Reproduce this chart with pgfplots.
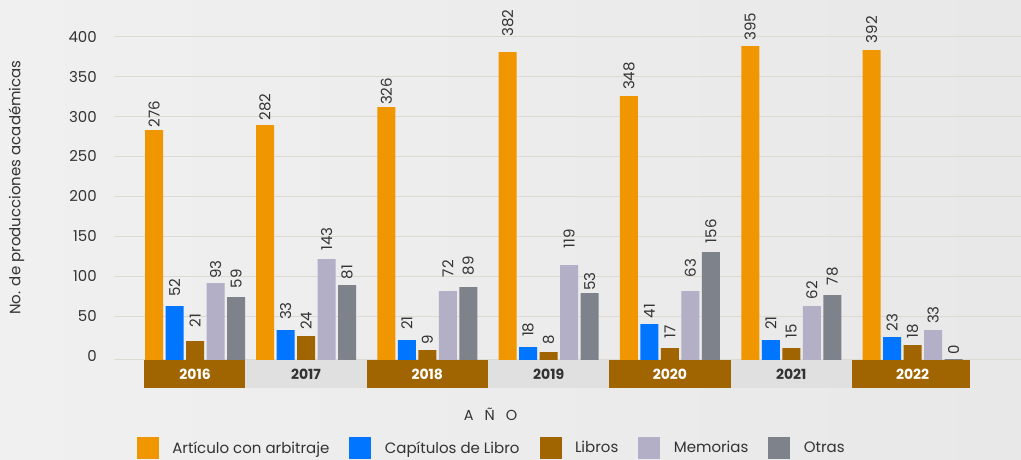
\documentclass[border=0pt]{standalone}
\usepackage{fontspec}
\setmainfont{Poppins}
\usepackage{pgfplots}
\usepackage{pgfplotstable}
\pgfplotsset{compat=1.18}

\definecolor{cArt}{HTML}{F09600}
\definecolor{cCap}{HTML}{0075FF}
\definecolor{cLib}{HTML}{A06400}
\definecolor{cMem}{HTML}{B2AFC6}
\definecolor{cOtr}{HTML}{7E838B}
\definecolor{bandG}{HTML}{E0E0E0}
\definecolor{gridc}{HTML}{DCDAD3}
\definecolor{bgL}{HTML}{F0F0F0}
\definecolor{bgR}{HTML}{E8E8E8}
\definecolor{txt}{HTML}{333333}

% x = group position, v = bar height as drawn, lab = printed label, ly = label start (axis units, shifted by +5)
\pgfplotstableread{
x v lab ly
0.085 283 276 291.4
1 289.3 282 299.7
2 311.8 326 319.3
3 380.7 382 404.9
4 325.6 348 338.1
5 388.2 395 399.9
6 383.2 392 396.6
}\art
\pgfplotstableread{
x v lab ly
0.085 62.6 52 79.3
1 32.6 33 50.1
2 20 21 37.6
3 11.3 18 28.8
4 40.1 41 52.2
5 20 21 37.6
6 23.8 23 35.4
}\cap
\pgfplotstableread{
x v lab ly
0.085 18.8 21 41.0
1 25.1 24 37.6
2 7.5 9 18.8
3 5 8 18.8
4 10 17 27.2
5 10 15 27.2
6 13.8 18 27.2
}\lib
\pgfplotstableread{
x v lab ly
0.085 91.4 93 101.4
1 121.5 143 136.9
2 81.4 72 103.6
3 114 119 139.9
4 81.4 63 103.6
5 62.6 62 76.0
6 32.6 33 45.1
}\mem
\pgfplotstableread{
x v lab ly
0.085 73.9 59 89.8
1 88.9 81 101.1
2 86.4 89 106.1
3 78.9 53 86.4
4 130.3 156 146.1
5 76.4 78 93.6
6 -3.7 0 6.3
}\otr

\pgfplotsset{
  mybar/.style={ybar, bar width=18pt, bar shift=0pt, draw=none,
    legend image code/.code={\fill[##1] (0pt,-11pt) rectangle (22pt,11pt);}},
  mylab/.style={forget plot, draw=none, mark=none, nodes near coords,
    point meta=explicit symbolic,
    nodes near coords style={anchor=west, rotate=90, inner sep=0pt,
      font=\fontsize{15}{18}\selectfont, text=txt}},
}

\begin{document}
\begin{tikzpicture}
\path[use as bounding box] (0pt,0pt) rectangle (1021pt,460pt);
\shade[left color=bgL, right color=bgR] (0pt,0pt) rectangle (1021pt,460pt);
\begin{axis}[
  at={(114pt,72pt)}, anchor=south west,
  scale only axis, width=907pt, height=351.3pt,
  xmin=-0.583, xmax=6.894, ymin=-35, ymax=405,
  clip=false,
  axis line style={draw=none}, tick style={draw=none},
  xtick=\empty,
  ytick={55,105,155,205,255,305,355,405},
  yticklabels={50,100,150,200,250,300,350,400},
  extra y ticks={1}, extra y tick labels={0},
  extra y tick style={grid=major, yticklabel style={yshift=3pt}},
  ymajorgrids, grid style={gridc, line width=1pt},
  yticklabel style={font=\fontsize{15}{18}\selectfont, text=txt, anchor=east, inner sep=0pt, xshift=-17pt},
  legend style={at={(0.4154,-0.1708)}, anchor=center, draw=none, fill=none,
    inner sep=0pt, font=\fontsize{15}{18}\selectfont, text=txt,
    nodes={inner sep=0pt},
    /tikz/every odd column/.style={column sep=13.5pt},
    /tikz/every even column/.style={column sep=20pt}},
  legend columns=-1,
]
\addplot[mybar, fill=cArt] table[x expr=\thisrow{x}-0.338, y expr=\thisrow{v}+5]{\art};
\addlegendentry{Artículo con arbitraje}
\addplot[mybar, fill=cCap] table[x expr=\thisrow{x}-0.169, y expr=\thisrow{v}+5]{\cap};
\addlegendentry{Capítulos de Libro}
\addplot[mybar, fill=cLib] table[x expr=\thisrow{x}, y expr=\thisrow{v}+5]{\lib};
\addlegendentry{Libros}
\addplot[mybar, fill=cMem] table[x expr=\thisrow{x}+0.169, y expr=\thisrow{v}+5]{\mem};
\addlegendentry{Memorias}
\addplot[mybar, fill=cOtr] table[x expr=\thisrow{x}+0.338, y expr=\thisrow{v}+5]{\otr};
\addlegendentry{Otras}

\addplot[mylab] table[x expr=\thisrow{x}-0.338, y=ly, meta=lab]{\art};
\addplot[mylab] table[x expr=\thisrow{x}-0.169, y=ly, meta=lab]{\cap};
\addplot[mylab] table[x expr=\thisrow{x}, y=ly, meta=lab]{\lib};
\addplot[mylab] table[x expr=\thisrow{x}+0.169, y=ly, meta=lab]{\mem};
\addplot[mylab] table[x expr=\thisrow{x}+0.338, y=ly, meta=lab]{\otr};

\fill[cLib] (axis cs:-0.336,-35) rectangle (axis cs:0.5,0);
\fill[bandG] (axis cs:0.5,-35) rectangle (axis cs:1.5,0);
\fill[cLib] (axis cs:1.5,-35) rectangle (axis cs:2.5,0);
\fill[bandG] (axis cs:2.5,-35) rectangle (axis cs:3.5,0);
\fill[cLib] (axis cs:3.5,-35) rectangle (axis cs:4.5,0);
\fill[bandG] (axis cs:4.5,-35) rectangle (axis cs:5.5,0);
\fill[cLib] (axis cs:5.5,-35) rectangle (axis cs:6.474,0);

\tikzset{yr/.style={font=\fontsize{14}{16}\selectfont\bfseries, inner sep=0pt}}
\node[yr, text=white] at (axis cs:0.085,-17.5) {2016};
\node[yr, text=txt] at (axis cs:1,-17.5) {2017};
\node[yr, text=white] at (axis cs:2,-17.5) {2018};
\node[yr, text=txt] at (axis cs:3,-17.5) {2019};
\node[yr, text=white] at (axis cs:4,-17.5) {2020};
\node[yr, text=txt] at (axis cs:5,-17.5) {2021};
\node[yr, text=white] at (axis cs:6,-17.5) {2022};
\end{axis}
\node[rotate=90, font=\fontsize{15}{18}\selectfont, text=txt] at (16.5pt,272.5pt) {No. de producciones académicas};
\node[font=\fontsize{14.5}{16}\selectfont, text=txt] at (490.5pt,46pt) {A\hspace{11pt}Ñ\hspace{11pt}O};
\end{tikzpicture}
\end{document}
